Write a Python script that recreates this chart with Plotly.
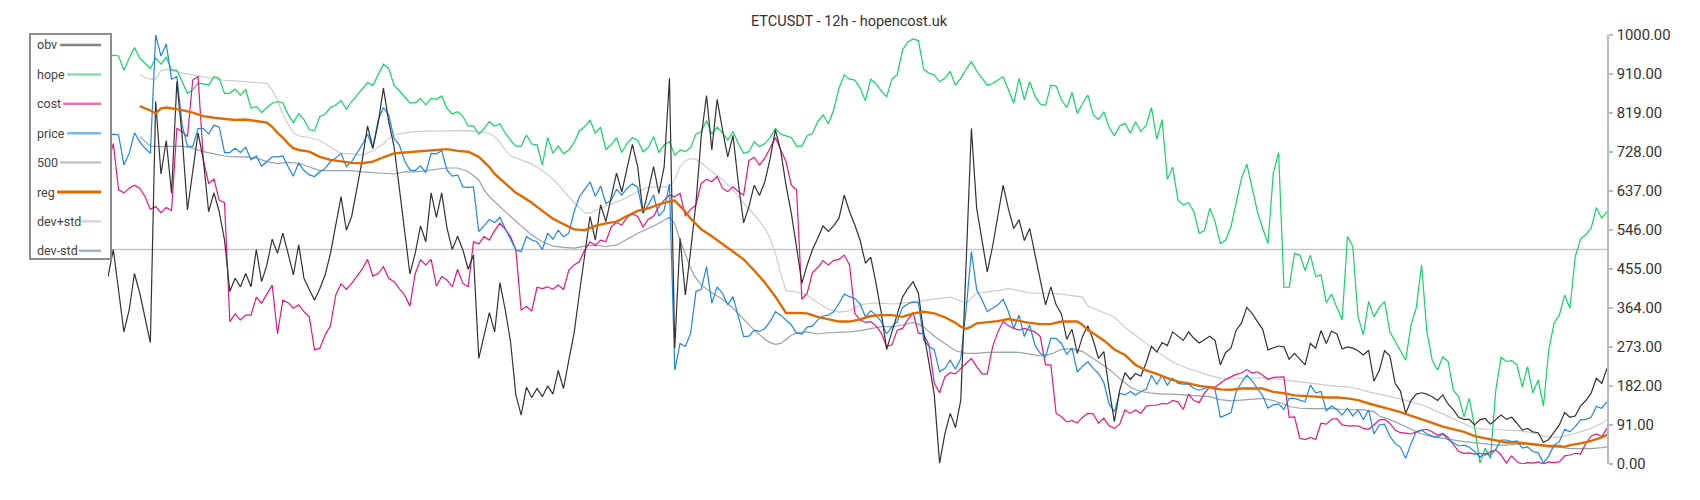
import plotly.graph_objects as go

# ---------------- data ----------------
N = 284
idx = list(range(N))

obv = [437, 500, 405, 308, 359, 444, 398, 343, 283, 845,
       676, 754, 631, 891, 763, 592, 685, 772, 709, 588,
       632, 588, 522, 402, 433, 413, 444, 413, 500, 425,
       464, 524, 491, 538, 491, 441, 511, 433, 407, 382,
       409, 441, 491, 557, 623, 545, 577, 643, 709, 788,
       736, 794, 876, 798, 740, 643, 549, 443, 491, 555,
       518, 632, 575, 632, 550,
       500, 531, 499, 454, 487, 246, 301, 353, 308, 423,
       359, 285, 161, 114, 179, 155, 176, 157, 182, 163,
       218, 176, 242, 305, 398, 491, 577, 522, 604, 565,
       623, 678, 634, 688, 745, 693, 586, 637, 693, 631,
       693, 899, 270, 526, 394, 497, 608, 763, 859, 732,
       850, 780, 716, 766, 655, 562, 600, 650, 626, 658,
       711, 779, 730, 650, 585, 505, 421, 464, 500, 526,
       555, 542, 555, 573, 627, 588, 557, 521, 468, 482,
       421, 351, 267, 308, 351, 389, 409, 425, 398, 306,
       235, 161, 2, 71, 118, 85, 149, 476, 782, 596,
       522, 448, 507, 577, 650, 594, 549, 569, 521, 549,
       485, 429, 371, 413, 371, 350, 291, 314, 258, 298,
       322, 289, 246, 262, 175, 99, 172, 213, 197, 211,
       205, 236, 274, 261, 283, 276, 308, 298, 288, 308,
       293, 282, 291, 298, 288, 231, 260, 270, 312, 329,
       365, 351, 332, 314, 266, 270, 275, 273, 244, 258,
       244, 231, 281, 270, 311, 281, 310, 303, 268, 273,
       270, 264, 254, 265, 193, 218, 264, 252, 188, 170,
       118, 148, 163, 166, 163, 157, 148, 161, 140, 126,
       109, 104, 104, 91, 103, 106, 93, 103, 114, 104,
       109, 95, 79, 83, 75, 73, 50, 57, 73, 91,
       120, 109, 112, 135, 148, 165, 200, 188, 223]

hope = [948, 953, 951, 918, 946, 971, 946, 934, 922, 946,
        932, 948, 918, 918, 891, 864, 872, 887, 886, 883,
        903, 899, 864, 864, 874, 860, 873, 829, 833, 819,
        831, 841, 845, 842, 815, 796, 817, 803, 779, 777,
        810, 816, 831, 837, 847, 827, 845, 860, 876, 889,
        882, 907, 932, 922, 883, 870, 856, 842, 842, 852,
        837, 852, 850, 858, 829,
        816, 821, 810, 788, 788, 769, 782, 798, 788, 793,
        771, 755, 741, 741, 767, 746, 744, 697, 761, 724,
        741, 723, 732, 749, 777, 786, 802, 771, 785, 733,
        744, 761, 726, 747, 761, 754, 728, 738, 763, 726,
        744, 751, 720, 732, 728, 738, 769, 775, 800, 769,
        785, 772, 755, 775, 747, 724, 728, 751, 740, 747,
        761, 782, 769, 765, 761, 741, 741, 765,
        771, 798, 814, 793, 825, 876, 907, 897, 895, 876,
        847, 897, 886, 870, 856, 897, 907, 965, 984, 991,
        987, 920, 911, 907, 891, 899, 915, 883, 899, 920,
        938, 916, 899, 883, 887, 895, 903, 872, 841, 899,
        849, 891, 858, 839, 836, 883, 881, 849, 831, 866,
        817, 841, 860, 814, 803, 821, 785, 765, 788, 794,
        771, 798, 775, 790, 831, 757, 803, 664, 692, 615,
        604, 609, 588, 538, 544, 596, 565, 514, 522, 553,
        608, 666, 699, 646, 588, 549, 514, 678, 726, 412,
        412, 491, 487, 451, 487, 437, 441, 376, 396, 365,
        336, 531, 507, 343, 301, 379, 343, 365, 379, 308,
        285, 262, 242, 324, 365, 464, 308, 242, 219, 250,
        239, 172, 157, 110, 153,
        87, 2, 37, 13, 172, 249, 239, 241, 231, 180,
        227, 166, 196, 135, 265, 328, 347, 394, 363, 483,
        524, 535, 549, 598, 573, 588]

cost = [700, 747, 639, 632, 643, 650, 643, 623, 594, 600,
        586, 598, 591, 782, 775, 763, 895, 903, 709, 654,
        664, 615, 609, 332, 350, 336, 347, 347, 389, 375,
        396, 417, 303, 382, 376, 363, 371, 355, 343, 266,
        270, 301, 322, 394, 420, 407, 421, 437, 454, 477,
        438, 444, 460, 433, 425, 409, 394, 368, 444, 476,
        464, 477, 415, 437, 429,
        413, 454, 421, 413, 518, 513, 530, 522, 544, 561,
        547, 530, 499, 359, 367, 357, 412, 409, 413, 407,
        417, 407, 452, 464, 472, 499,
        518, 510, 522, 518, 553, 563, 557, 575, 583, 577,
        553, 570, 578, 600, 615, 627, 623, 631, 578, 594,
        604, 654, 664, 658, 670, 643, 635, 646, 635, 627,
        707, 715, 697, 713, 736, 761, 732, 705, 650, 639,
        384, 398, 446, 458, 474, 464, 474, 477, 487, 464,
        351, 336, 330, 332, 322, 305, 274, 278, 312, 316,
        336, 353, 305, 303, 277, 188, 166, 203, 213, 210,
        223, 235, 246, 227, 210, 210, 273, 308, 332, 322,
        316, 312, 316, 312, 308, 297, 231, 231, 118, 110,
        98, 101, 96, 109, 118, 117, 95, 107, 89, 83, 93,
        126, 118, 126, 118, 135, 137, 137, 141, 140, 148,
        145, 127, 163, 148, 143, 165, 179, 179, 188, 197,
        203, 209, 212, 220, 212, 215, 207, 197, 202, 203,
        203, 109, 110, 60, 57, 62, 57, 95, 93, 104,
        106, 91, 89, 89, 89, 83, 81, 91, 103, 104,
        95, 79, 73, 72, 70, 75,
        79, 81, 75, 67, 71, 62, 44, 29, 25, 26,
        23, 25, 21, 29, 33, 21, 2, 19, 5, 0,
        3, 2, 5, 0, 5, 3, 5, 19, 21, 25,
        23, 48, 65, 70, 64, 83]

price = [765, 769, 767, 697, 724, 772, 751, 736, 724, 1000,
         951, 979, 897, 903, 790, 741, 740, 782, 782, 769,
         790, 785, 726, 726, 736, 726, 738, 709, 718, 694,
         705, 716, 716, 718, 693, 671, 702, 684, 674, 670,
         681, 689, 705, 713, 724, 693, 705, 726, 744, 769,
         736, 802, 831, 814, 759, 744, 707, 685, 684, 695,
         679, 724, 723, 730, 685,
         671, 674, 646, 645, 646, 542, 555, 570, 563, 575,
         549, 522, 499, 495, 530, 522, 518, 500, 538, 524,
         545, 530, 538, 588, 623, 640, 658, 624, 648, 607,
         615, 640, 627, 643, 653, 645, 584, 604, 627, 578,
         592, 653,
         219, 281, 274, 305, 402, 407, 460, 375, 413, 398,
         371, 390, 340, 297, 298, 312,
         309, 316, 332, 355, 347, 336, 324, 305, 303, 319,
         322, 336, 345, 347, 355, 374, 396, 390, 386, 373,
         343, 357, 347, 332, 303, 320, 332, 365, 373, 378,
         376, 289, 274, 266, 215, 223, 242, 221, 246, 359,
         495, 406, 383, 355, 363, 371, 384, 355, 316, 347,
         297, 324, 277, 258, 250, 293, 293, 281, 256, 270,
         215, 228, 238, 223, 211, 190, 140, 122, 165,
         161, 169, 161, 169, 174, 207, 186, 207, 184, 200,
         188, 186, 186, 176, 172, 176, 179, 174, 109, 114,
         120, 169, 190, 207, 194, 176, 159, 130, 138, 140,
         127, 153, 153, 149, 145, 184, 166, 169, 124, 135,
         127, 114, 130, 112, 126, 103, 126, 70,
         91, 93, 65, 48, 39, 13, 48, 75, 79, 70,
         65, 62, 70, 57, 50, 42, 44, 39, 29, 16,
         25, 21, 34, 56, 56, 52, 54, 37, 40, 29,
         26, 2, 19, 44, 52, 81, 75, 87, 103, 104,
         109, 134, 130, 145]

level_500 = 500

reg_idx = ([6, 7, 8, 9, 10, 11, 12] + list(range(14, 31, 2)) + [31, 32, 33, 34, 35, 36]
           + list(range(38, 71, 2)) + [71, 72, 73, 74, 75, 76, 77, 78]
           + list(range(80, 107, 2)) + [107, 108, 109, 110, 111, 112]
           + list(range(114, 127, 2)) + [127, 128] + list(range(130, 161, 2))
           + [161, 162, 163, 164] + list(range(166, 183, 2)) + [183, 184, 185, 186]
           + list(range(188, 275, 2)) + [275, 276, 278, 280, 282, 283])
reg = [834, 829, 824, 817, 829, 831, 829,
       825, 819, 811, 807, 804, 802, 803, 800, 796,
       786, 772, 761, 747, 736, 732,
       728, 716, 709, 705, 702, 701, 705, 715, 724, 726, 728, 730, 732, 734, 730, 728, 716,
       705, 692, 676, 664, 654, 643, 632, 625,
       609, 590, 572, 559, 547, 545, 555, 561, 565, 578, 590, 596, 605, 612,
       614, 601, 588, 572, 559, 547,
       531, 513, 497, 477, 451, 423, 390,
       370, 352,
       352, 351, 343, 337, 332, 332, 337, 345, 347, 347, 343, 351, 355, 351, 342, 329,
       320, 315, 320, 328,
       331, 333, 338, 333, 329, 326, 326, 332, 332,
       332, 324, 312, 305,
       288, 267, 254, 231, 218, 210, 200, 192, 188, 182,
       179, 174, 173, 176, 176, 176, 168, 165, 160, 159,
       157, 155, 155, 153, 149, 141, 135, 128, 121, 113,
       105, 96, 87, 81, 75, 65, 60, 54, 50, 50,
       47, 44, 42, 42,
       40, 44, 48, 54, 62, 68]

devp_idx = ([6, 7, 8, 9, 10, 11, 12] + list(range(14, 31, 2)) + [31, 32, 33, 34, 35, 36]
            + list(range(38, 53, 2)) + [53, 54] + list(range(56, 73, 2)) + [73, 74, 75, 76]
            + list(range(78, 91, 2)) + [91] + list(range(92, 107, 2))
            + [107, 108, 109, 110, 111, 112] + list(range(114, 125, 2)) + [125, 126, 127, 128]
            + list(range(130, 159, 2)) + [159, 160, 162, 163, 164] + list(range(166, 185, 2))
            + [185, 186] + list(range(188, 283, 2)) + [283])
dev_plus = [907, 901, 897, 897, 917, 920, 918,
            911, 907, 903, 899, 894, 893, 891, 889, 887,
            872, 848, 814, 794, 772, 765,
            761, 754, 738, 724, 723, 720, 730, 746,
            759, 767,
            772, 775, 776, 776, 777, 777, 777, 774, 771,
            763, 749, 732, 718,
            709, 699, 684, 664, 637, 609, 586,
            584,
            591, 601, 611, 621, 635, 645, 646, 646,
            663, 693, 707, 712, 710, 702,
            681, 663, 639, 608, 581, 550,
            526, 491, 444, 404,
            401, 394, 376, 361, 354, 357, 371, 375, 375, 373, 375, 378, 381, 384, 388,
            389, 384, 375, 387, 398,
            401, 404, 409, 404, 399, 398, 398, 396, 393, 389,
            368, 363,
            353, 342, 318, 300, 282, 262, 245, 232, 222, 214,
            206, 200, 198, 200, 201, 201, 199, 196, 193, 191,
            188, 184, 181, 180, 175, 168, 163, 158, 152, 145,
            138, 128, 117, 106, 95, 83, 81, 81, 79, 78,
            75, 68, 62, 62, 68, 75, 83, 95,
            104]

devm_idx = ([6, 7, 8] + list(range(10, 71, 2)) + [71, 72, 73, 74] + list(range(76, 107, 2))
            + [107, 108, 109, 110, 111, 112] + list(range(114, 125, 2))
            + [125, 126, 127, 128, 129, 130] + list(range(132, 153, 2))
            + [153, 154, 155, 156, 157, 158, 159, 160] + list(range(162, 185, 2))
            + [185, 186, 187, 188, 189, 190, 191] + [193, 195, 197, 199, 201, 203]
            + list(range(206, 223, 2)) + list(range(223, 240, 2)) + list(range(240, 283, 2)) + [283])
dev_minus = [763, 751, 741,
             740, 740, 741, 736, 728, 723, 718, 716, 716, 713,
             705, 700, 703, 701, 693, 684, 684, 684, 684, 681,
             679, 677, 676, 681, 681, 684, 687, 690, 690, 682, 662,
             639, 623, 611, 600,
             577, 555, 534, 518, 508, 505, 503, 508, 510, 507, 510, 524, 538, 549, 561, 575,
             561, 522, 487, 456, 433, 417,
             399, 384, 363, 337, 312, 291,
             283, 279, 281, 290, 300, 306,
             308, 303, 306, 307, 308, 311, 316, 320, 320, 324, 330,
             326, 319, 308, 298, 289, 280, 272, 264,
             258, 258, 260, 261, 261, 260, 256, 252, 256, 267, 269, 262,
             254, 246, 239, 231, 221, 210, 200,
             179, 169, 165, 163, 163, 161,
             158, 157, 150, 147, 149, 151, 153, 148, 140,
             134, 130, 129, 129, 129, 127, 126, 126, 122,
             112, 104, 93, 81, 70, 64, 60, 56, 52, 50,
             47, 44, 44, 46, 46, 44, 40, 39, 36, 36,
             36, 38,
             40]

tick_vals = [0, 91, 182, 273, 364, 455, 546, 637, 728, 819, 910, 1000]
tick_text = ["%.2f" % v for v in tick_vals]

legend_labels = ["obv", "hope", "cost", "price", "500", "reg", "dev+std", "dev-std"]

# ---------------- styling ----------------
C_OBV = "#333333"
C_HOPE = "#14d466"
C_COST = "#e8177f"
C_PRICE = "#1f87e3"
C_500 = "#c6c6c6"
C_REG = "#df6b00"
C_DEVP = "#c9ced3"
C_DEVM = "#97a3ad"

# the page body adds an 8px offset; target screen coordinates are compensated
OFF = 8
W, H = 1700 - OFF, 500 - OFF
L, R, T, B = 108, 1607, 35, 464   # plot area in screen pixels


def px(v):
    return (v - L) / (R - L)


def py(v):
    return (B - v) / (B - T)


fig = go.Figure()
fig.add_trace(go.Scatter(x=[0, N - 1], y=[level_500, level_500], mode="lines",
                         line=dict(color=C_500, width=1.6), name="500"))
fig.add_trace(go.Scatter(x=devp_idx, y=dev_plus, mode="lines",
                         line=dict(color=C_DEVP, width=1.2), name="dev+std"))
fig.add_trace(go.Scatter(x=devm_idx, y=dev_minus, mode="lines",
                         line=dict(color=C_DEVM, width=1.2), name="dev-std"))
fig.add_trace(go.Scatter(x=idx, y=hope, mode="lines",
                         line=dict(color=C_HOPE, width=1.2), name="hope"))
fig.add_trace(go.Scatter(x=idx, y=cost, mode="lines",
                         line=dict(color=C_COST, width=1.2), name="cost"))
fig.add_trace(go.Scatter(x=idx, y=price, mode="lines",
                         line=dict(color=C_PRICE, width=1.2), name="price"))
fig.add_trace(go.Scatter(x=idx, y=obv, mode="lines",
                         line=dict(color=C_OBV, width=1.2), name="obv"))
fig.add_trace(go.Scatter(x=reg_idx, y=reg, mode="lines",
                         line=dict(color=C_REG, width=2.4), name="reg"))

# custom legend (text left, line sample right)
shapes = [dict(type="rect", xref="paper", yref="paper",
               x0=px(30), x1=px(111), y0=py(259), y1=py(34),
               line=dict(color="#8c8c8c", width=2), fillcolor="white", layer="above")]
annotations = []
swatch = {
    "obv": ("rgba(51,51,51,0.6)", 2.5, 60),
    "hope": ("rgba(20,212,102,0.55)", 2.5, 67),
    "cost": ("rgba(232,23,127,0.6)", 2.5, 63),
    "price": ("rgba(31,135,227,0.6)", 2.5, 67),
    "500": ("#c6c6c6", 2.5, 60),
    "reg": (C_REG, 3, 57),
    "dev+std": ("#d2d7db", 2.5, 81),
    "dev-std": ("#a9b2ba", 2.5, 79),
}
for k, lab in enumerate(legend_labels):
    yy = 45 + k * 29.4
    col, w, xs = swatch[lab]
    shapes.append(dict(type="line", xref="paper", yref="paper",
                       x0=px(xs), x1=px(101), y0=py(yy), y1=py(yy),
                       line=dict(color=col, width=w), layer="above"))
    annotations.append(dict(text=lab, xref="paper", yref="paper", x=px(35), y=py(yy),
                            xanchor="left", yanchor="middle", showarrow=False,
                            font=dict(family="Roboto", size=12.5, color="#444444")))

fig.update_layout(
    width=W, height=H,
    margin=dict(l=L - OFF, r=W - (R - OFF), t=T - OFF, b=H - (B - OFF), autoexpand=False),
    paper_bgcolor="white", plot_bgcolor="white",
    showlegend=False,
    title=dict(text="ETCUSDT - 12h - hopencost.uk", xref="container", x=(849 - OFF) / W,
               yref="container", y=1 - (20.5 - OFF) / H, yanchor="middle", xanchor="center",
               font=dict(family="Roboto", size=14.5, color="#333333")),
    xaxis=dict(visible=False, range=[0, N - 1], showgrid=False, zeroline=False),
    yaxis=dict(side="right", range=[0, 1000], showgrid=False, zeroline=False,
               showline=True, linecolor="#b3bcc4", linewidth=1.5,
               ticks="outside", ticklen=4, tickcolor="#b3bcc4", tickwidth=1.5,
               ticklabelstandoff=1,
               tickvals=tick_vals, ticktext=tick_text,
               tickfont=dict(family="Roboto", size=14.8, color="#333333")),
    shapes=shapes, annotations=annotations,
)

fig.write_html("out.html")
